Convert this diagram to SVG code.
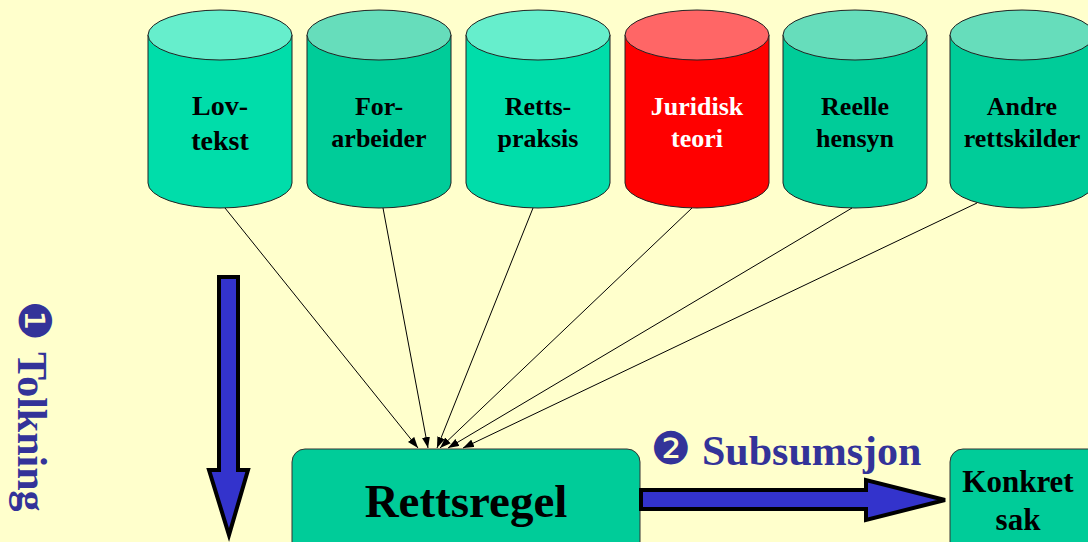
<svg xmlns="http://www.w3.org/2000/svg" width="1088" height="542" viewBox="0 0 1088 542">
<defs>
<marker id="ah" viewBox="0 0 11 8" refX="11" refY="4" markerWidth="11" markerHeight="8" markerUnits="userSpaceOnUse" orient="auto">
<path d="M0,0 L11,4 L0,8 Z" fill="#000"/>
</marker>
</defs>
<style>
.lbl{font-family:"Liberation Serif","Times New Roman",serif;font-weight:bold;font-size:26px;text-anchor:middle;fill:#000}
.bodyA{fill:#00DDAA;stroke:#222;stroke-width:1}
.topA{fill:#66EECC;stroke:#222;stroke-width:1}
.bodyB{fill:#00CC99;stroke:#222;stroke-width:1}
.topB{fill:#66DDBB;stroke:#222;stroke-width:1}
.bodyR{fill:#FF0000;stroke:#222;stroke-width:1}
.topR{fill:#FF6666;stroke:#222;stroke-width:1}
.conn{stroke:#000;stroke-width:1;fill:none;marker-end:url(#ah)}
.blue{fill:#3333CC;stroke:#000;stroke-width:4;stroke-linejoin:miter}
.step{font-family:"Liberation Serif","Times New Roman",serif;font-weight:bold;font-size:42px;fill:#333399}
.num{font-family:"DejaVu Sans",sans-serif;font-size:45px;fill:#333399;text-anchor:middle}
.box{fill:#00CC99;stroke:#333;stroke-width:1}
</style>
<rect width="1088" height="542" fill="#FFFFCC"/>

<g id="lovtekst">
<path class="bodyA" d="M148,35 L148,183 A72,25 0 0 0 292,183 L292,35 Z"/>
<ellipse class="topA" cx="220" cy="35" rx="72" ry="25"/>
<text class="lbl" x="220" y="115" style="font-size:28px">Lov-</text>
<text class="lbl" x="220" y="150" style="font-size:28px">tekst</text>
</g>
<g id="forarbeider">
<path class="bodyB" d="M307,35 L307,183 A72,25 0 0 0 451,183 L451,35 Z"/>
<ellipse class="topB" cx="379" cy="35" rx="72" ry="25"/>
<text class="lbl" x="379" y="115">For-</text>
<text class="lbl" x="379" y="147">arbeider</text>
</g>
<g id="rettspraksis">
<path class="bodyA" d="M466,35 L466,183 A72,25 0 0 0 610,183 L610,35 Z"/>
<ellipse class="topA" cx="538" cy="35" rx="72" ry="25"/>
<text class="lbl" x="538" y="115">Retts-</text>
<text class="lbl" x="538" y="147">praksis</text>
</g>
<g id="juridisk">
<path class="bodyR" d="M625,35 L625,183 A72,25 0 0 0 769,183 L769,35 Z"/>
<ellipse class="topR" cx="697" cy="35" rx="72" ry="25"/>
<text class="lbl" x="697" y="115" style="fill:#fff">Juridisk</text>
<text class="lbl" x="697" y="147" style="fill:#fff">teori</text>
</g>
<g id="reelle">
<path class="bodyB" d="M783,35 L783,183 A72,25 0 0 0 927,183 L927,35 Z"/>
<ellipse class="topB" cx="855" cy="35" rx="72" ry="25"/>
<text class="lbl" x="855" y="115">Reelle</text>
<text class="lbl" x="855" y="147">hensyn</text>
</g>
<g id="andre">
<path class="bodyB" d="M950,35 L950,183 A72,25 0 0 0 1094,183 L1094,35 Z"/>
<ellipse class="topB" cx="1022" cy="35" rx="72" ry="25"/>
<text class="lbl" x="1022" y="115">Andre</text>
<text class="lbl" x="1022" y="147">rettskilder</text>
</g>

<g id="rettsregel">
<rect class="box" x="292" y="449" width="348" height="110" rx="13"/>
<text class="lbl" x="466" y="517" style="font-size:47px">Rettsregel</text>
</g>
<g id="konkret">
<rect class="box" x="950" y="449" width="160" height="110" rx="13"/>
<text class="lbl" x="1018" y="492" style="font-size:31px">Konkret</text>
<text class="lbl" x="1018" y="530" style="font-size:31px">sak</text>
</g>

<g id="connectors">
<line class="conn" x1="225" y1="208" x2="418" y2="448"/>
<line class="conn" x1="383" y1="208" x2="428" y2="448"/>
<line class="conn" x1="533" y1="208" x2="437" y2="448"/>
<line class="conn" x1="692" y1="208" x2="440" y2="448"/>
<line class="conn" x1="852" y1="208" x2="448" y2="448"/>
<line class="conn" x1="977" y1="203" x2="463" y2="448"/>
<polygon class="blue" points="641,490 866,490 866,480 945,500 866,520 866,509 641,509"/>
<polygon class="blue" points="219,277 238,277 238,470 248,470 229,535 209,470 219,470"/>
</g>

<g id="subsumsjon">
<text class="num" x="671" y="464">❷</text>
<text class="step" x="702" y="465">Subsumsjon</text>
</g>
<g id="tolkning">
<text class="num" transform="translate(20,321) rotate(90)" x="0" y="1">❶</text>
<text class="step" transform="translate(18,352) rotate(90)">Tolkning</text>
</g>
</svg>
